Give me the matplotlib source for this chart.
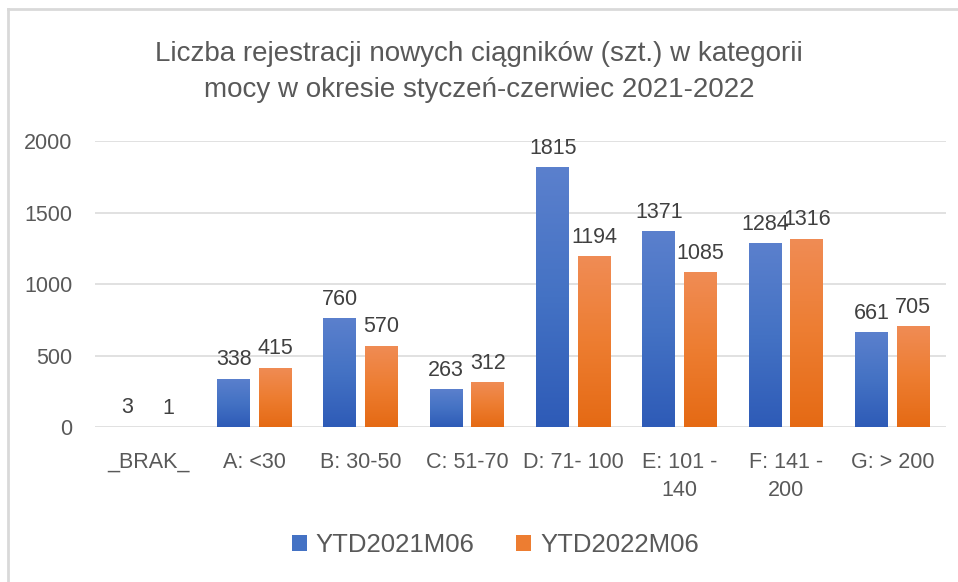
import numpy as np
import matplotlib
matplotlib.use("Agg")
import matplotlib.pyplot as plt
from matplotlib.patches import Patch
from matplotlib.lines import Line2D
from matplotlib.colors import LinearSegmentedColormap

categories = ["_BRAK_", "A: <30", "B: 30-50", "C: 51-70", "D: 71- 100",
              "E: 101 -\n140", "F: 141 -\n200", "G: > 200"]
series_names = ["YTD2021M06", "YTD2022M06"]
ytd2021 = [3, 338, 760, 263, 1815, 1371, 1284, 661]
ytd2022 = [1, 415, 570, 312, 1194, 1085, 1316, 705]
yticks = [0, 500, 1000, 1500, 2000]

title = "Liczba rejestracji nowych ciągników (szt.) w kategorii\nmocy w okresie styczeń-czerwiec 2021-2022"

# top -> bottom gradient colours
blue_grad = ["#5b80cd", "#4472c4", "#2e5bb7"]
orange_grad = ["#f08c55", "#ed7d31", "#e56a14"]

plt.rcParams["font.family"] = ["Liberation Sans", "DejaVu Sans"]

fig = plt.figure(figsize=(9.58, 5.82), dpi=100)
ax = fig.add_axes([0.099, 0.2663, 0.888, 0.4914])

x = np.arange(len(categories))
w = 0.31
off = 0.195

def gradient_bars(bars, cols):
    cmap = LinearSegmentedColormap.from_list("g", cols[::-1])
    grad = np.linspace(0, 1, 256).reshape(-1, 1)
    for b in bars:
        x0, y0 = b.get_x(), b.get_y()
        bw, bh = b.get_width(), b.get_height()
        if bh <= 0:
            continue
        im = ax.imshow(grad, cmap=cmap, aspect="auto", origin="lower",
                       extent=[x0, x0 + bw, y0, y0 + bh], zorder=3)
        im.set_clip_path(b)

bars1 = ax.bar(x - off, ytd2021, w, color=blue_grad[1], zorder=2)
bars2 = ax.bar(x + off, ytd2022, w, color=orange_grad[1], zorder=2)
gradient_bars(bars1, blue_grad)
gradient_bars(bars2, orange_grad)

for bars in (bars1, bars2):
    ax.bar_label(bars, padding=6, fontsize=15.5, color="#404040", zorder=5)

ax.set_xlim(-0.5, len(categories) - 0.5)
ax.set_ylim(0, 2000)
ax.set_yticks(yticks)
ax.set_xticks(x)
ax.set_xticklabels(categories, linespacing=1.45)
ax.tick_params(axis="both", length=0, labelsize=15.5, labelcolor="#595959")
ax.tick_params(axis="x", pad=18)
ax.tick_params(axis="y", pad=16)
ax.grid(axis="y", color="#d9d9d9", linewidth=1.1, zorder=0)
for s in ax.spines.values():
    s.set_visible(False)

fig.text(0.5, 0.93, title, ha="center", va="top", fontsize=20,
         color="#595959", linespacing=1.5)

handles = [Patch(facecolor=blue_grad[1]), Patch(facecolor=orange_grad[1])]
fig.legend(handles, series_names, loc="center", bbox_to_anchor=(0.517, 0.064),
           ncol=2, frameon=False, fontsize=18.5, labelcolor="#595959",
           handlelength=0.6, handleheight=0.6, handletextpad=0.35,
           columnspacing=1.6)

# chart frame
fig.add_artist(Line2D([7.5 / 958, 1], [1 - 9 / 582, 1 - 9 / 582],
                      color="#d9d9d9", linewidth=2, transform=fig.transFigure))
fig.add_artist(Line2D([8 / 958, 8 / 958], [0, 1 - 9 / 582],
                      color="#d9d9d9", linewidth=2, transform=fig.transFigure))

fig.savefig("out.png", dpi=100, facecolor="white")
